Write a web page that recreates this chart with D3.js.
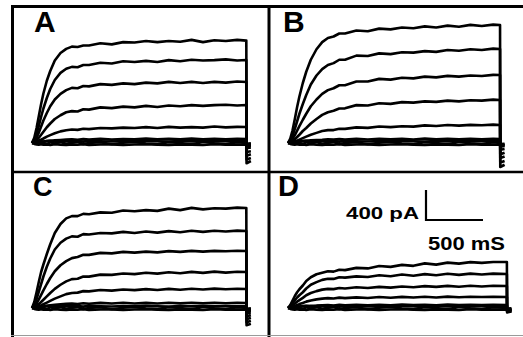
<!DOCTYPE html>
<html><head><meta charset="utf-8">
<script src="https://cdn.jsdelivr.net/npm/d3@7"></script>
<style>body{margin:0;background:#fff}svg{display:block}</style>
</head><body>
<script>
// ---- data (ms, pA) ----
const times = [0,20,40,60,80,100,130,160,200,250,300,350,400,450,500,600,700,800,900,1000,1100,1200,1300,1400,1500,1600,1700,1800];
const panelLabels = ["A","B","C","D"];
const stepDur = [1880, 1860, 1880, 1920];

const baseHi = [0,12,20,22,25,18,26,28,20,25,28,22,26,18,28,24,20,27,22,28,24,20,26,22,28,22,26,24,24];
const baseLo = [0,-12,-18,-22,-16,-24,-20,-26,-16,-22,-26,-18,-24,-16,-26,-20,-18,-26,-20,-16,-24,-26,-18,-22,-26,-16,-22,-20,-22];
const baseMid = [0,6,-4,-10,10,0,-14,10,-6,14,-10,4,14,-14,0,10,-16,4,14,-6,-14,10,0,-16,14,-4,-14,10,0];

const tracesA = [
 [0,70,200,360,520,660,830,960,1100,1200,1255,1285,1280,1300,1300,1330,1315,1345,1340,1360,1345,1360,1350,1375,1345,1370,1360,1375,1365],
 [0,40,120,230,350,460,600,720,840,935,990,1015,1010,1040,1040,1070,1060,1090,1080,1095,1080,1105,1090,1110,1100,1105,1115,1100,1107],
 [0,20,70,140,220,300,400,490,580,655,705,735,730,760,755,785,775,795,785,805,795,815,800,815,800,815,805,820,813],
 [0,10,35,70,110,150,210,260,320,370,410,425,420,450,445,475,465,485,475,495,480,500,490,505,495,505,510,500,507],
 [0,5,15,30,45,60,85,105,130,155,170,180,175,190,185,200,195,205,200,212,200,215,205,212,205,220,208,215,213],
 [0,2,5,10,15,20,25,30,35,40,45,50,44,52,46,56,45,54,48,58,48,55,48,58,50,56,50,56,53],
 baseHi, baseLo, baseMid
];
const tailsA = [[-270,-240],[-220,-200],[-170,-150],[-120,-110],[-70,-60],[-40,-35],[-10,-5],[-30,-25],[-20,-15]];

const tracesB = [
 [0,60,170,320,480,620,800,950,1110,1250,1345,1400,1420,1460,1460,1500,1490,1525,1515,1540,1530,1555,1540,1565,1550,1575,1560,1578,1573],
 [0,35,100,190,290,390,520,640,780,900,985,1040,1065,1110,1110,1165,1160,1195,1185,1210,1205,1225,1215,1240,1230,1250,1240,1258,1253],
 [0,20,55,105,165,225,310,390,490,580,655,705,730,770,770,820,820,855,845,870,862,885,875,895,885,900,893,908,907],
 [0,8,25,50,80,110,160,200,260,320,375,410,430,460,462,505,500,530,522,545,538,555,548,565,555,570,565,578,573],
 [0,3,10,20,32,45,65,85,110,135,160,172,172,190,188,208,202,220,212,224,218,235,226,240,232,242,236,245,240],
 [0,2,5,10,15,20,25,30,35,40,44,50,45,52,47,56,46,57,48,56,47,58,49,56,48,57,51,56,53],
 baseHi, baseLo, baseMid
];
const tailsB = [[-320,-290],[-260,-240],[-200,-180],[-150,-130],[-90,-80],[-50,-40],[-15,-10],[-35,-30],[-25,-20]];

const tracesC = [
 [0,80,210,350,480,580,720,850,1000,1120,1195,1225,1225,1255,1250,1275,1270,1300,1290,1305,1295,1325,1305,1335,1315,1330,1325,1338,1333],
 [0,40,120,220,320,420,550,660,780,870,925,955,950,985,980,1000,995,1015,1000,1020,1005,1025,1010,1030,1015,1030,1020,1032,1027],
 [0,20,60,115,175,235,320,400,490,570,625,665,680,710,708,735,728,748,738,752,742,758,748,762,752,762,756,763,760],
 [0,8,25,50,80,110,155,200,255,310,355,385,390,420,418,445,442,460,452,470,458,477,463,482,468,485,472,483,480],
 [0,3,10,22,35,50,72,95,125,155,185,200,205,225,222,240,232,246,238,252,240,255,243,257,246,258,249,256,253],
 [0,2,5,10,15,20,28,35,42,48,55,60,54,64,57,68,59,69,60,68,61,71,62,70,63,71,64,69,67],
 baseHi, baseLo, baseMid
];
const tailsC = [[-230,-210],[-190,-170],[-150,-130],[-110,-95],[-70,-60],[-40,-35],[-10,-5],[-30,-25],[-20,-15]];

const tracesD = [
 [0,40,100,160,210,250,300,360,410,450,470,490,485,510,505,535,528,560,548,575,562,595,578,605,592,612,602,614,613],
 [0,25,65,105,140,170,210,260,310,345,375,390,388,410,405,422,414,436,424,446,430,452,436,456,442,458,447,458,453],
 [0,12,35,60,85,105,135,170,200,225,245,255,252,266,260,276,267,282,272,287,277,292,282,295,284,296,287,296,293],
 [0,5,15,28,40,52,68,85,100,115,125,132,127,138,132,142,134,146,137,148,139,150,141,152,143,151,146,150,147],
 [0,2,5,10,15,18,22,26,30,32,36,40,34,42,35,44,37,43,37,46,38,43,37,45,40,44,39,43,40],
 baseHi, baseLo, baseMid
];
const tailsD = [[-60,-45],[-50,-40],[-40,-30],[-30,-25],[-20,-15],[-10,-5],[-30,-25],[-20,-15]];

const scaleBar = {pA: 400, ms: 500};

// ---- layout ----
const W = 523, H = 337;
const pxPer500ms = 57, pxPer400pA = 30;
const panels = [
  {label: panelLabels[0], traces: tracesA, tails: tailsA, dur: stepDur[0], x0: 32, y0: 143, lx: 34, ly: 32, fs: 30},
  {label: panelLabels[1], traces: tracesB, tails: tailsB, dur: stepDur[1], x0: 288, y0: 143, lx: 283, ly: 32, fs: 30},
  {label: panelLabels[2], traces: tracesC, tails: tailsC, dur: stepDur[2], x0: 32, y0: 308, lx: 33, ly: 196, fs: 27},
  {label: panelLabels[3], traces: tracesD, tails: tailsD, dur: stepDur[3], x0: 288, y0: 308, lx: 278, ly: 196, fs: 29}
];

const svg = d3.select("body").append("svg").attr("width", W).attr("height", H);
svg.append("rect").attr("width", W).attr("height", H).attr("fill", "#fff");

// frame
const frame = svg.append("g").attr("stroke", "#000").attr("stroke-linecap", "butt");
frame.append("line").attr("x1", 12.5).attr("x2", 12.5).attr("y1", 5).attr("y2", 337).attr("stroke-width", 3);
frame.append("line").attr("x1", 11).attr("x2", 523).attr("y1", 6.5).attr("y2", 6.5).attr("stroke-width", 3);
frame.append("line").attr("x1", 269).attr("x2", 269).attr("y1", 5).attr("y2", 337).attr("stroke-width", 3);
frame.append("line").attr("x1", 11).attr("x2", 523).attr("y1", 172).attr("y2", 172).attr("stroke-width", 2.5);
svg.append("line").attr("x1", 11).attr("x2", 523).attr("y1", 335.5).attr("y2", 335.5).attr("stroke", "#9a9a9a").attr("stroke-width", 1);

panels.forEach(p => {
  const x = d3.scaleLinear().domain([0, 500]).range([p.x0, p.x0 + pxPer500ms]);
  const y = d3.scaleLinear().domain([0, 400]).range([p.y0, p.y0 - pxPer400pA]);
  const t = times.concat([p.dur]);
  const line = d3.line().x(d => x(d[0])).y(d => y(d[1])).curve(d3.curveLinear);
  const g = svg.append("g");
  p.traces.forEach((tr, i) => {
    const pts = t.map((tt, j) => [tt, tr[j]]);
    const tl = p.tails[i];
    pts.push([p.dur + 2, tl[0]], [p.dur + 40, tl[1]]);
    g.append("path").attr("d", line(pts)).attr("fill", "none")
      .attr("stroke", "#000").attr("stroke-width", 2.6).attr("stroke-linejoin", "round");
  });
  svg.append("text").attr("x", p.lx).attr("y", p.ly).text(p.label)
    .attr("font-family", "Liberation Sans, Arial, sans-serif").attr("font-weight", "bold")
    .attr("font-size", p.fs).attr("fill", "#000");
});

// scale bar
const sbx = d3.scaleLinear().domain([0, 500]).range([426, 426 + pxPer500ms]);
const sby = d3.scaleLinear().domain([0, 400]).range([220, 220 - pxPer400pA]);
svg.append("path").attr("d", `M${sbx(0)},${sby(scaleBar.pA)}V${sby(0)}H${sbx(scaleBar.ms)}`)
  .attr("fill", "none").attr("stroke", "#000").attr("stroke-width", 2.2);
svg.append("text").attr("x", 346).attr("y", 219).text(scaleBar.pA + " pA")
  .attr("font-family", "Liberation Sans, Arial, sans-serif").attr("font-weight", "bold")
  .attr("font-size", 16.5).attr("textLength", 73).attr("lengthAdjust", "spacingAndGlyphs");
svg.append("text").attr("x", 428).attr("y", 250).text(scaleBar.ms + " mS")
  .attr("font-family", "Liberation Sans, Arial, sans-serif").attr("font-weight", "bold")
  .attr("font-size", 17.5).attr("textLength", 77).attr("lengthAdjust", "spacingAndGlyphs");
</script>
</body></html>
